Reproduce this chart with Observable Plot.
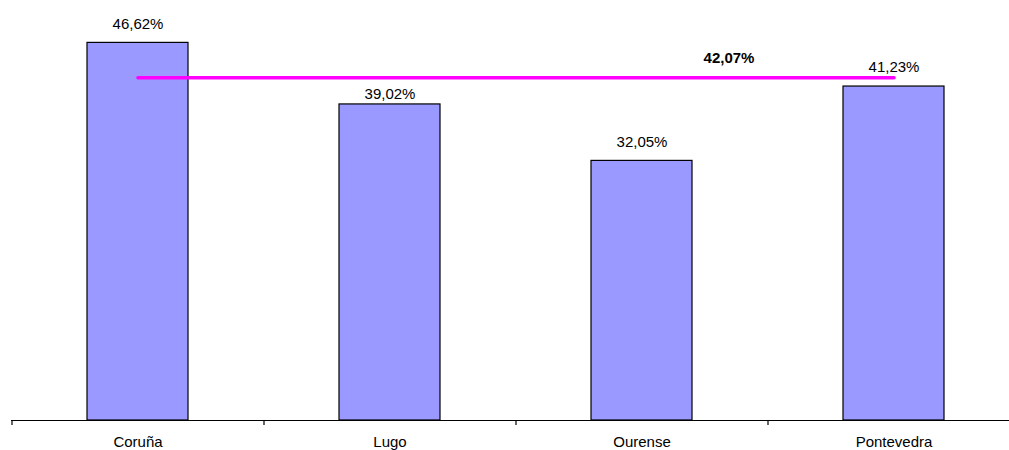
<!DOCTYPE html>
<html><head><meta charset="utf-8">
<script src="https://cdn.jsdelivr.net/npm/d3@7"></script>
<script src="https://cdn.jsdelivr.net/npm/@observablehq/plot@0.6"></script>
<style>body{margin:0;background:#fff;}</style>
</head><body><div id="chart"></div>
<script>
const provinces = ["Coruña", "Lugo", "Ourense", "Pontevedra"];
const shares = [46.62, 39.02, 32.05, 41.23];
const averageValue = 42.07;

const data = provinces.map((p, i) => ({province: p, value: shares[i]}));
const avgLine = provinces.filter((p, i) => i === 0 || i === provinces.length - 1)
  .map(p => ({province: p, value: averageValue}));
const fmt = v => v.toFixed(2).replace(".", ",") + "%";

const xRange = [11, 1019];
const step = (xRange[1] - xRange[0]) / provinces.length;

const chart = Plot.plot({
  width: 1009,
  height: 450,
  marginTop: 15,
  marginBottom: 30,
  marginLeft: 11,
  marginRight: 0,
  style: {fontFamily: "'Liberation Sans', Arial, sans-serif", fontSize: "15px", color: "#000", background: "#fff"},
  x: {domain: provinces, range: xRange, paddingInner: 0.6, paddingOuter: 0.3, label: null},
  y: {domain: [0, 50], axis: null},
  marks: [
    Plot.barY(data, {x: "province", y: "value", fill: "#9999FF", stroke: "#000", strokeWidth: 1.2}),
    Plot.ruleY([0], {stroke: "#000", strokeWidth: 1.2}),
    Plot.axisX({tickSize: 5, text: null, dx: -step / 2, stroke: "#000", strokeWidth: 1.2}),
    Plot.axisX({tickSize: 0, tickPadding: 16, fontSize: 15, fill: "#000"}),
    Plot.line(avgLine, {x: "province", y: "value", stroke: "#FF00FF", strokeWidth: 3.5, dy: -2}),
    Plot.text(data.filter(d => d.province !== "Lugo"), {x: "province", y: "value", text: d => fmt(d.value), dy: -19, fontSize: 15, fill: "#000"}),
    Plot.text(data.filter(d => d.province === "Lugo"), {x: "province", y: "value", text: d => fmt(d.value), dy: -10, fontSize: 15, fill: "#000"}),
    Plot.text([{province: "Ourense", value: averageValue}], {x: "province", y: "value", text: d => fmt(d.value), dx: 87, dy: -22, fontSize: 15, fontWeight: "bold", fill: "#000"})
  ]
});
document.getElementById("chart").appendChild(chart);
</script>
</body></html>
